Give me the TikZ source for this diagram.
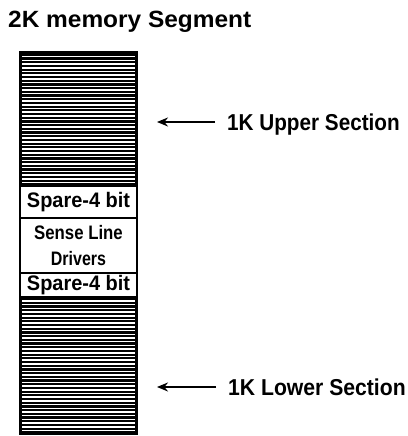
\documentclass[tikz,border=0pt]{standalone}
\usepackage{fontspec}
\setmainfont{Liberation Sans}
\usetikzlibrary{arrows.meta}
\begin{document}
\begin{tikzpicture}[x=1pt,y=1pt,
  hatch/.style={draw=black, fill=black, line width=2pt, minimum width=117pt, inner sep=0pt, outer sep=0pt, anchor=north west},
  cell/.style={draw=black, fill=white, line width=2.5pt, minimum width=117pt, inner sep=0pt, outer sep=0pt, anchor=north west, align=center},
  gap/.style={white, line width=1.5pt},
  lab/.style={anchor=west, inner sep=0pt, text height=16.5pt, text depth=0pt, font=\fontsize{23}{23}\selectfont\bfseries},
  arr/.style={line width=1.8pt, -{Stealth[length=11pt,width=9pt]}, shorten <=12pt}]
\useasboundingbox (0,0) rectangle (407,436);
\node[anchor=base west, inner sep=0pt, font=\fontsize{23.5}{23.5}\selectfont\bfseries] (title) at (8,408) {\scalebox{1.04}[1]{2K memory Segment}};
% column
\node[hatch, minimum height=134pt] (upper) at (20,384) {};
\foreach \k in {0,...,34} \draw[gap] ([xshift=2pt]upper.south west) ++(0,{3.5+\k*3.7}) -- ++(113,0);
\node[hatch, minimum height=137pt] (lower) at (20,139) {};
\foreach \k in {0,...,35} \draw[gap] ([xshift=2pt]lower.south west) ++(0,{3.5+\k*3.7}) -- ++(113,0);
\node[cell, minimum height=32pt, font=\fontsize{21}{21}\selectfont\bfseries] (spare1) at (20,250) {\scalebox{0.95}[1]{Spare-4 bit}};
\node[cell, minimum height=55pt, font=\fontsize{19.5}{26}\selectfont\bfseries] (sense) at (20,218) {\scalebox{0.86}[1]{Sense Line}\\\scalebox{0.82}[1]{Drivers}};
\node[cell, minimum height=24pt, font=\fontsize{21}{21}\selectfont\bfseries] (spare2) at (20,163) {\scalebox{0.95}[1]{Spare-4 bit}};
% labels and arrows
\node[lab] (ulab) at (227,314) {\scalebox{0.9}[1]{1K Upper Section}};
\coordinate (utip) at (157,314);
\draw[arr] (ulab.west) -- (utip);
\node[lab] (llab) at (228,49) {\scalebox{0.92}[1]{1K Lower Section}};
\coordinate (ltip) at (157,49);
\draw[arr] (llab.west) -- (ltip);
\end{tikzpicture}
\end{document}
